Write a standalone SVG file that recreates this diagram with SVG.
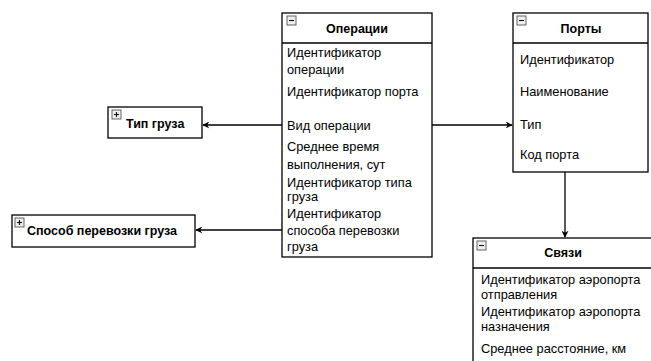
<svg xmlns="http://www.w3.org/2000/svg" width="651" height="361" viewBox="0 0 651 361">
  <style>
    .box { fill: #ffffff; stroke: #000000; stroke-width: 1.3; }
    .sep { stroke: #000000; stroke-width: 1.3; }
    .title { font-family: "Liberation Sans", Arial, sans-serif; font-size: 12.5px; font-weight: bold; fill: #000000; }
    .attr { font-family: "Liberation Sans", Arial, sans-serif; font-size: 12.8px; fill: #000000; }
    .icon { fill: #eeeeee; stroke: #555555; stroke-width: 0.9; }
    .icon-mark { stroke: #111111; stroke-width: 1.1; }
    .edge { fill: none; stroke: #000000; stroke-width: 1.3; }
  </style>
  <defs>
    <marker id="arrow" viewBox="0 0 10 10" refX="9" refY="5" markerWidth="7" markerHeight="7" orient="auto" markerUnits="userSpaceOnUse">
      <path d="M0,0 L10,5 L0,10 L3,5 z" fill="#000000"/>
    </marker>
  </defs>

  <rect width="651" height="361" fill="#ffffff"/>

  <!-- connectors -->
  <g id="connectors">
    <line class="edge" x1="282" y1="125" x2="203" y2="125" marker-end="url(#arrow)"/>
    <line class="edge" x1="282" y1="230" x2="196" y2="230" marker-end="url(#arrow)"/>
    <line class="edge" x1="432" y1="125" x2="512" y2="125" marker-end="url(#arrow)"/>
    <line class="edge" x1="565" y1="172" x2="565" y2="237" marker-end="url(#arrow)"/>
  </g>

  <!-- Операции -->
  <g id="operations">
    <rect class="box" x="282" y="13" width="150" height="244"/>
    <line class="sep" x1="282" y1="43" x2="432" y2="43"/>
    <rect class="icon" x="287" y="16" width="9" height="9"/>
    <line class="icon-mark" x1="289" y1="20.5" x2="294" y2="20.5"/>
    <text class="title" x="357" y="33" text-anchor="middle">Операции</text>
    <text class="attr" x="287" y="57">Идентификатор</text>
    <text class="attr" x="287" y="74">операции</text>
    <text class="attr" x="287" y="96">Идентификатор порта</text>
    <text class="attr" x="287" y="130">Вид операции</text>
    <text class="attr" x="287" y="151">Среднее время</text>
    <text class="attr" x="287" y="169">выполнения, сут</text>
    <text class="attr" x="287" y="187">Идентификатор типа</text>
    <text class="attr" x="287" y="201">груза</text>
    <text class="attr" x="287" y="218">Идентификатор</text>
    <text class="attr" x="287" y="235">способа перевозки</text>
    <text class="attr" x="287" y="251">груза</text>
  </g>

  <!-- Порты -->
  <g id="ports">
    <rect class="box" x="513" y="13" width="135" height="159"/>
    <line class="sep" x1="513" y1="43" x2="648" y2="43"/>
    <rect class="icon" x="517" y="16" width="9" height="9"/>
    <line class="icon-mark" x1="519" y1="20.5" x2="524" y2="20.5"/>
    <text class="title" x="581" y="33" text-anchor="middle">Порты</text>
    <text class="attr" x="520" y="64">Идентификатор</text>
    <text class="attr" x="520" y="96">Наименование</text>
    <text class="attr" x="520" y="129">Тип</text>
    <text class="attr" x="520" y="159">Код порта</text>
  </g>

  <!-- Связи -->
  <g id="links">
    <rect class="box" x="473" y="238" width="182" height="130"/>
    <line class="sep" x1="473" y1="268" x2="655" y2="268"/>
    <rect class="icon" x="477" y="241" width="9" height="9"/>
    <line class="icon-mark" x1="479" y1="245.5" x2="484" y2="245.5"/>
    <text class="title" x="563" y="257" text-anchor="middle">Связи</text>
    <text class="attr" x="481" y="284">Идентификатор аэропорта</text>
    <text class="attr" x="481" y="299">отправления</text>
    <text class="attr" x="481" y="316">Идентификатор аэропорта</text>
    <text class="attr" x="481" y="331">назначения</text>
    <text class="attr" x="481" y="353">Среднее расстояние, км</text>
  </g>

  <!-- Тип груза -->
  <g id="cargo-type">
    <rect class="box" x="108" y="107" width="94" height="31"/>
    <rect class="icon" x="112" y="110" width="9" height="9"/>
    <line class="icon-mark" x1="114" y1="114.5" x2="119" y2="114.5"/>
    <line class="icon-mark" x1="116.5" y1="112" x2="116.5" y2="117"/>
    <text class="title" x="126" y="128">Тип груза</text>
  </g>

  <!-- Способ перевозки груза -->
  <g id="transport-method">
    <rect class="box" x="12" y="215" width="183" height="32"/>
    <rect class="icon" x="15" y="218" width="9" height="9"/>
    <line class="icon-mark" x1="17" y1="222.5" x2="22" y2="222.5"/>
    <line class="icon-mark" x1="19.5" y1="220" x2="19.5" y2="225"/>
    <text class="title" x="27" y="235">Способ перевозки груза</text>
  </g>
</svg>
